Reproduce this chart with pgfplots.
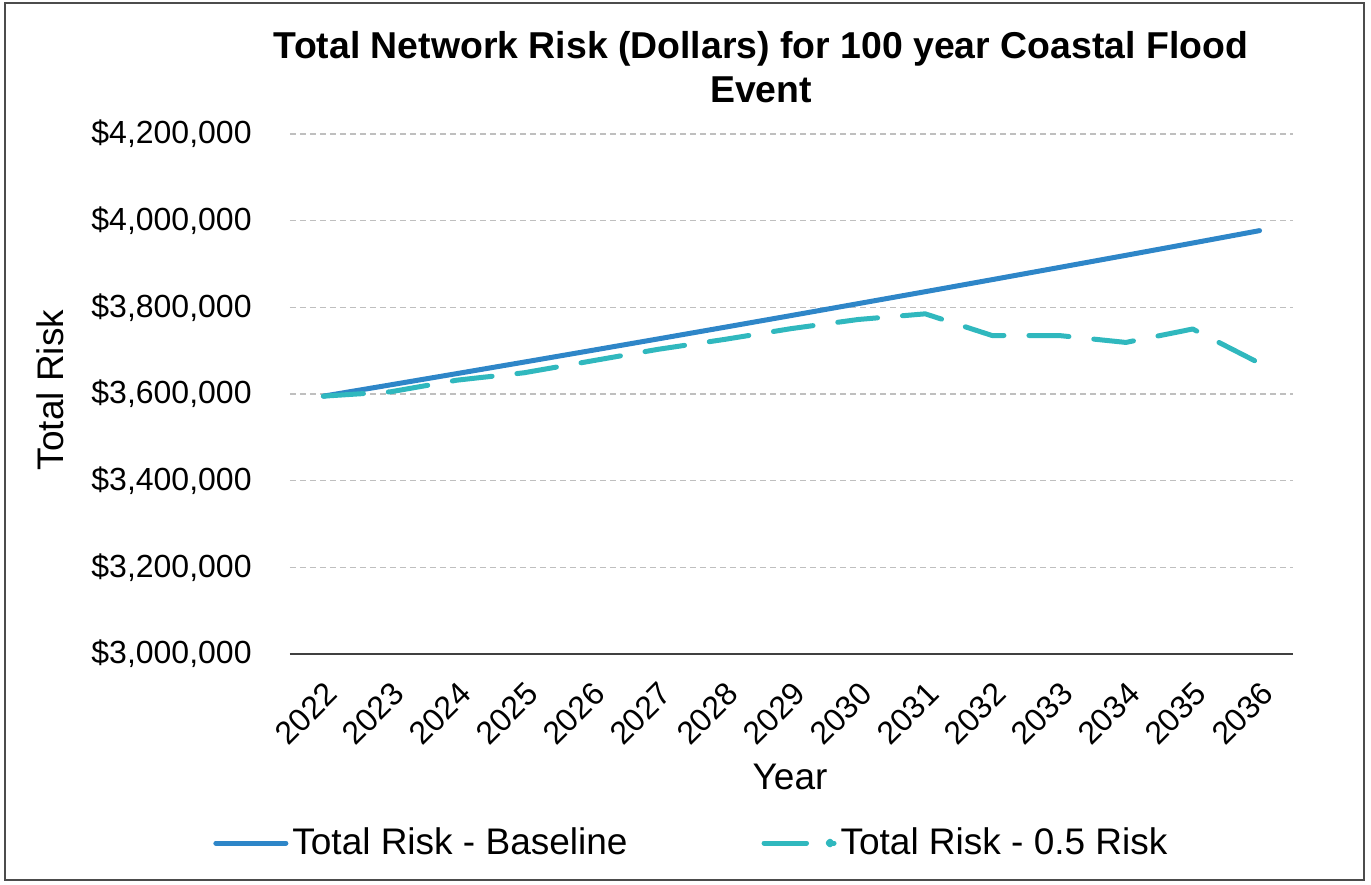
\documentclass[border=0pt]{standalone}
\usepackage{pgfplots}
\pgfplotsset{compat=1.18}
\usepackage{fontspec}
\setmainfont{Liberation Sans}
\definecolor{baseblue}{HTML}{2E86C8}
\definecolor{teal}{HTML}{30B8BE}
\definecolor{gridgray}{HTML}{BFBFBF}
\begin{document}
\begin{tikzpicture}
\useasboundingbox (-145pt,-115pt) rectangle (540.5pt,327pt);
\begin{axis}[
  at={(0,0)}, anchor=south west,
  scale only axis,
  width=501.5pt, height=260pt,
  xmin=2021.5, xmax=2036.5,
  ymin=3000000, ymax=4200000,
  xtick={2022,2023,2024,2025,2026,2027,2028,2029,2030,2031,2032,2033,2034,2035,2036},
  xticklabels={2022,2023,2024,2025,2026,2027,2028,2029,2030,2031,2032,2033,2034,2035,2036},
  ytick={3000000,3200000,3400000,3600000,3800000,4000000,4200000},
  yticklabels={{\$3,000,000},{\$3,200,000},{\$3,400,000},{\$3,600,000},{\$3,800,000},{\$4,000,000},{\$4,200,000}},
  scaled y ticks=false,
  major tick length=0pt,
  tick style={draw=none},
  ticklabel style={font=\fontsize{16}{19}\selectfont},
  x tick label style={xshift=0pt, yshift=-13pt, rotate=45, anchor=north east, inner sep=0pt},
  y tick label style={anchor=east, inner sep=0pt, xshift=-19pt},
  axis x line*=bottom, axis y line*=left,
  axis line style={-},
  x axis line style={draw=black!75, line width=1pt},
  y axis line style={draw=none},
  ymajorgrids,
  grid style={gridgray, line width=0.75pt, dash pattern=on 3pt off 2pt},
  xlabel={Year},
  xlabel style={at={(axis description cs:0.4985,-0.2365)}, anchor=center, font=\fontsize{18.5}{21}\selectfont},
  ylabel={Total Risk},
  ylabel style={at={(axis description cs:-0.2393,0.5077)}, anchor=center, font=\fontsize{18.5}{21}\selectfont},
  title={Total Network Risk (Dollars) for 100 year Coastal Flood\\Event},
  title style={at={(axis description cs:0.4696,1.106)}, anchor=center, align=center, font=\bfseries\fontsize{18.7}{22}\selectfont},
  legend columns=2,
  legend style={at={(axis description cs:-0.0768,-0.3635)}, anchor=west, draw=none, fill=none,
    font=\fontsize{18.5}{21}\selectfont, inner sep=0pt,
    /tikz/every even column/.append style={column sep=65pt}},
  legend cell align=left,
  legend image code/.code={\path (0pt,0pt) -- (35pt,0pt); \draw[#1] (1.25pt,0pt) -- (33.75pt,0pt);},
]
\addplot[baseblue, line width=2.5pt, line cap=round] coordinates {
(2022,3595000) (2023,3621000) (2024,3647200) (2025,3673600) (2026,3700200)
(2027,3727000) (2028,3754000) (2029,3781200) (2030,3808600) (2031,3836100)
(2032,3863900) (2033,3891900) (2034,3920000) (2035,3948400) (2036,3977000)};
\addlegendentry{Total Risk - Baseline}
\addplot[teal, line width=2.5pt, line cap=round, line join=round, dash pattern=on 20pt off 12.5pt,
  legend image code/.code={\path (0pt,0pt) -- (35pt,0pt); \draw[teal, line width=2.5pt, line cap=round] (1.25pt,0pt) -- (26pt,0pt); \fill[teal] (33pt,0pt) circle (0.9pt);}] coordinates {
(2022,3595000) (2023,3605000) (2024,3632000) (2025,3649000) (2026,3676000)
(2027,3703000) (2028,3726000) (2029,3751000) (2030,3772000) (2031,3785000)
(2032,3735000) (2033,3735000) (2034,3719000) (2035,3750000) (2036,3671000)};
\addlegendentry{Total Risk - 0.5 Risk}
\end{axis}
\draw[black!70, line width=0.75pt] (-142.5pt,-113pt) rectangle (537pt,325.5pt);
\end{tikzpicture}
\end{document}
